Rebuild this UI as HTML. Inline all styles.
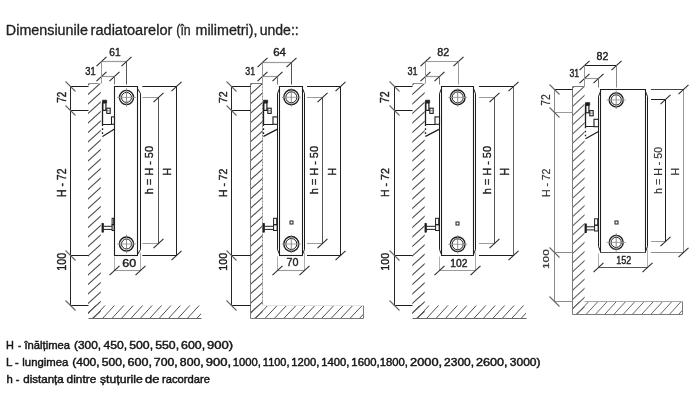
<!DOCTYPE html>
<html><head><meta charset="utf-8"><style>
html,body{margin:0;padding:0;background:#fff;width:700px;height:407px;overflow:hidden}
svg{display:block;font-family:"Liberation Sans", sans-serif;will-change:transform}
</style></head><body>
<svg width="700" height="407" viewBox="0 0 700 407">
<rect width="700" height="407" fill="#fff"/>
<clipPath id="c0"><rect x="88.00" y="83.60" width="12.80" height="235.00"/></clipPath>
<path clip-path="url(#c0)" d="M86.00,67.70L102.80,52.60M86.00,77.20L102.80,62.10M86.00,86.70L102.80,71.60M86.00,96.20L102.80,81.10M86.00,105.70L102.80,90.60M86.00,115.20L102.80,100.10M86.00,124.70L102.80,109.60M86.00,134.20L102.80,119.10M86.00,143.70L102.80,128.60M86.00,153.20L102.80,138.10M86.00,162.70L102.80,147.60M86.00,172.20L102.80,157.10M86.00,181.70L102.80,166.60M86.00,191.20L102.80,176.10M86.00,200.70L102.80,185.60M86.00,210.20L102.80,195.10M86.00,219.70L102.80,204.60M86.00,229.20L102.80,214.10M86.00,238.70L102.80,223.60M86.00,248.20L102.80,233.10M86.00,257.70L102.80,242.60M86.00,267.20L102.80,252.10M86.00,276.70L102.80,261.60M86.00,286.20L102.80,271.10M86.00,295.70L102.80,280.60M86.00,305.20L102.80,290.10M86.00,314.70L102.80,299.60M86.00,324.20L102.80,309.10M86.00,333.70L102.80,318.60M86.00,343.20L102.80,328.10" stroke="#505050" stroke-width="1.1" fill="none"/>
<clipPath id="c1"><rect x="88.00" y="305.50" width="113.00" height="13.10"/></clipPath>
<path clip-path="url(#c1)" d="M62.91,320.60L78.57,303.50M72.33,320.60L87.99,303.50M81.75,320.60L97.41,303.50M91.17,320.60L106.83,303.50M100.59,320.60L116.25,303.50M110.01,320.60L125.67,303.50M119.43,320.60L135.09,303.50M128.85,320.60L144.51,303.50M138.27,320.60L153.93,303.50M147.69,320.60L163.35,303.50M157.11,320.60L172.77,303.50M166.53,320.60L182.19,303.50M175.95,320.60L191.61,303.50M185.37,320.60L201.03,303.50M194.79,320.60L210.45,303.50M204.21,320.60L219.87,303.50M213.63,320.60L229.29,303.50" stroke="#505050" stroke-width="1.0" fill="none"/>
<line x1="88.50" y1="83.50" x2="98.50" y2="83.50" stroke="#8a8a8a" stroke-width="1.0" />
<line x1="88.50" y1="318.50" x2="201.50" y2="318.50" stroke="#666" stroke-width="1.0" />
<line x1="70.50" y1="86.50" x2="70.50" y2="305.50" stroke="#262626" stroke-width="1.0" />
<line x1="70.50" y1="86.50" x2="88.50" y2="86.50" stroke="#1e1e1e" stroke-width="1.0" />
<line x1="65.50" y1="81.50" x2="75.50" y2="91.50" stroke="#666" stroke-width="1.1" />
<line x1="70.50" y1="110.50" x2="88.50" y2="110.50" stroke="#1e1e1e" stroke-width="1.0" />
<line x1="65.50" y1="105.50" x2="75.50" y2="115.50" stroke="#666" stroke-width="1.1" />
<line x1="70.50" y1="255.50" x2="88.50" y2="255.50" stroke="#1e1e1e" stroke-width="1.0" />
<line x1="65.50" y1="250.50" x2="75.50" y2="260.50" stroke="#666" stroke-width="1.1" />
<line x1="70.50" y1="305.50" x2="88.50" y2="305.50" stroke="#1e1e1e" stroke-width="1.0" />
<line x1="65.50" y1="300.50" x2="75.50" y2="310.50" stroke="#666" stroke-width="1.1" />
<path d="M114.5,255.5V86.5H137.5V255.5" stroke="#1e1e1e" fill="#fff" stroke-width="1.1"/>
<line x1="114.00" y1="255.50" x2="138.00" y2="255.50" stroke="#1e1e1e" stroke-width="1.1" />
<path d="M137.5,88.5L140.5,93.5V249.5L137.5,254.5" stroke="#1e1e1e" fill="none" stroke-width="1.0"/>
<circle cx="126.50" cy="97.40" r="7.05" stroke="#1e1e1e" fill="none" stroke-width="1.4"/>
<circle cx="126.50" cy="97.40" r="5.00" stroke="#1e1e1e" fill="none" stroke-width="1.0"/>
<line x1="117.00" y1="97.40" x2="136.00" y2="97.40" stroke="#9a9a9a" stroke-width="0.9" />
<line x1="126.50" y1="88.20" x2="126.50" y2="106.60" stroke="#808080" stroke-width="0.9" />
<circle cx="126.50" cy="244.00" r="7.05" stroke="#1e1e1e" fill="none" stroke-width="1.4"/>
<circle cx="126.50" cy="244.00" r="5.00" stroke="#1e1e1e" fill="none" stroke-width="1.0"/>
<line x1="117.00" y1="244.00" x2="136.00" y2="244.00" stroke="#9a9a9a" stroke-width="0.9" />
<line x1="126.50" y1="234.80" x2="126.50" y2="253.20" stroke="#808080" stroke-width="0.9" />
<path d="M102.50,100.20H106.70V102.80H102.50Z" stroke="#1e1e1e" fill="#1e1e1e" stroke-width="0.7"/>
<rect x="102.80" y="102.80" width="3.10" height="7.60" stroke="#1e1e1e" fill="none" stroke-width="1.2"/>
<rect x="106.80" y="108.20" width="3.40" height="5.20" stroke="#1e1e1e" fill="none" stroke-width="1.1"/>
<line x1="106.80" y1="110.80" x2="110.20" y2="110.80" stroke="#666" stroke-width="0.8" />
<line x1="102.50" y1="103.00" x2="102.50" y2="124.30" stroke="#1e1e1e" stroke-width="1.3" />
<line x1="102.50" y1="124.30" x2="102.50" y2="136.40" stroke="#1e1e1e" stroke-width="1.3" stroke-dasharray="1.6,2.4"/>
<line x1="102.50" y1="124.50" x2="111.50" y2="124.50" stroke="#1e1e1e" stroke-width="1.0" />
<rect x="111.50" y="116.90" width="3.00" height="7.40" stroke="#1e1e1e" fill="none" stroke-width="1.1"/>
<line x1="102.50" y1="136.40" x2="114.50" y2="129.10" stroke="#1e1e1e" stroke-width="1.2" />
<rect x="101.90" y="223.30" width="1.80" height="9.00" stroke="#1e1e1e" fill="#1e1e1e" stroke-width="0.5"/>
<line x1="103.50" y1="226.30" x2="112.00" y2="226.30" stroke="#1e1e1e" stroke-width="1.0" />
<line x1="103.50" y1="229.40" x2="112.00" y2="229.40" stroke="#1e1e1e" stroke-width="1.0" />
<rect x="112.10" y="218.30" width="1.60" height="6.40" stroke="#1e1e1e" fill="none" stroke-width="1.0"/>
<rect x="112.10" y="224.70" width="2.00" height="5.80" stroke="#1e1e1e" fill="none" stroke-width="1.0"/>
<line x1="101.50" y1="61.50" x2="126.50" y2="61.50" stroke="#9a9a9a" stroke-width="1.2" />
<line x1="101.50" y1="76.50" x2="114.50" y2="76.50" stroke="#9a9a9a" stroke-width="1.2" />
<line x1="96.50" y1="66.10" x2="106.50" y2="56.90" stroke="#2a2a2a" stroke-width="1.1" />
<line x1="121.50" y1="66.10" x2="131.50" y2="56.90" stroke="#2a2a2a" stroke-width="1.1" />
<line x1="96.50" y1="81.10" x2="106.50" y2="71.90" stroke="#2a2a2a" stroke-width="1.1" />
<line x1="109.50" y1="81.10" x2="119.50" y2="71.90" stroke="#2a2a2a" stroke-width="1.1" />
<line x1="101.50" y1="61.50" x2="101.50" y2="83.50" stroke="#999" stroke-width="1.0" />
<line x1="126.50" y1="61.50" x2="126.50" y2="84.50" stroke="#555" stroke-width="1.0" />
<line x1="114.50" y1="76.50" x2="114.50" y2="84.50" stroke="#777" stroke-width="1.0" />
<line x1="142.30" y1="97.50" x2="158.50" y2="97.50" stroke="#9a9a9a" stroke-width="1.0" />
<line x1="142.30" y1="243.50" x2="158.50" y2="243.50" stroke="#9a9a9a" stroke-width="1.0" />
<line x1="158.50" y1="97.50" x2="158.50" y2="243.50" stroke="#555" stroke-width="1.0" />
<line x1="153.50" y1="102.10" x2="163.50" y2="92.90" stroke="#2a2a2a" stroke-width="1.1" />
<line x1="153.50" y1="248.10" x2="163.50" y2="238.90" stroke="#2a2a2a" stroke-width="1.1" />
<line x1="142.30" y1="86.50" x2="176.50" y2="86.50" stroke="#1e1e1e" stroke-width="1.0" />
<line x1="142.30" y1="255.50" x2="176.50" y2="255.50" stroke="#1e1e1e" stroke-width="1.0" />
<line x1="176.50" y1="86.50" x2="176.50" y2="255.50" stroke="#222" stroke-width="1.0" />
<line x1="171.50" y1="91.10" x2="181.50" y2="81.90" stroke="#2a2a2a" stroke-width="1.1" />
<line x1="171.50" y1="260.10" x2="181.50" y2="250.90" stroke="#2a2a2a" stroke-width="1.1" />
<line x1="114.50" y1="270.50" x2="140.50" y2="270.50" stroke="#9a9a9a" stroke-width="1.1" />
<line x1="114.50" y1="256.50" x2="114.50" y2="270.50" stroke="#b0b0b0" stroke-width="1.0" />
<line x1="140.50" y1="252.50" x2="140.50" y2="270.50" stroke="#b0b0b0" stroke-width="1.0" />
<line x1="109.50" y1="275.10" x2="119.50" y2="265.90" stroke="#2a2a2a" stroke-width="1.1" />
<line x1="135.50" y1="275.10" x2="145.50" y2="265.90" stroke="#2a2a2a" stroke-width="1.1" />
<text x="109.34" y="55.74" font-size="10.88" fill="#1e1e1e" stroke="#1e1e1e" stroke-width="0.4" font-weight="normal" textLength="11.30" lengthAdjust="spacingAndGlyphs">61</text>
<text x="85.29" y="74.54" font-size="11.02" fill="#1e1e1e" stroke="#1e1e1e" stroke-width="0.4" font-weight="normal" textLength="10.41" lengthAdjust="spacingAndGlyphs">31</text>
<text x="122.23" y="266.75" font-size="10.45" fill="#1e1e1e" stroke="#1e1e1e" stroke-width="0.4" font-weight="normal" textLength="13.90" lengthAdjust="spacingAndGlyphs">60</text>
<text transform="translate(66.35,102.66) rotate(-90)" x="0" y="0" font-size="13.18" fill="#1e1e1e" stroke="#1e1e1e" stroke-width="0.4" font-weight="normal" textLength="11.01" lengthAdjust="spacingAndGlyphs">72</text>
<text transform="translate(66.35,197.11) rotate(-90)" x="0" y="0" font-size="13.18" fill="#1e1e1e" stroke="#1e1e1e" stroke-width="0.4" font-weight="normal" textLength="28.58" lengthAdjust="spacingAndGlyphs">H - 72</text>
<text transform="translate(66.02,270.67) rotate(-90)" x="0" y="0" font-size="12.71" fill="#1e1e1e" stroke="#1e1e1e" stroke-width="0.4" font-weight="normal" textLength="18.04" lengthAdjust="spacingAndGlyphs">100</text>
<text transform="translate(153.24,194.21) rotate(-90)" x="0" y="0" font-size="11.17" fill="#1e1e1e" stroke="#1e1e1e" stroke-width="0.4" font-weight="normal" textLength="48.19" lengthAdjust="spacingAndGlyphs">h = H - 50</text>
<text transform="translate(171.45,175.73) rotate(-90)" x="0" y="0" font-size="10.9" fill="#1e1e1e" stroke="#1e1e1e" stroke-width="0.4" font-weight="normal" textLength="7.77" lengthAdjust="spacingAndGlyphs">H</text>
<clipPath id="c2"><rect x="250.50" y="83.50" width="12.20" height="235.10"/></clipPath>
<path clip-path="url(#c2)" d="M248.50,67.74L264.70,52.86M248.50,77.24L264.70,62.36M248.50,86.74L264.70,71.86M248.50,96.24L264.70,81.36M248.50,105.74L264.70,90.86M248.50,115.24L264.70,100.36M248.50,124.74L264.70,109.86M248.50,134.24L264.70,119.36M248.50,143.74L264.70,128.86M248.50,153.24L264.70,138.36M248.50,162.74L264.70,147.86M248.50,172.24L264.70,157.36M248.50,181.74L264.70,166.86M248.50,191.24L264.70,176.36M248.50,200.74L264.70,185.86M248.50,210.24L264.70,195.36M248.50,219.74L264.70,204.86M248.50,229.24L264.70,214.36M248.50,238.74L264.70,223.86M248.50,248.24L264.70,233.36M248.50,257.74L264.70,242.86M248.50,267.24L264.70,252.36M248.50,276.74L264.70,261.86M248.50,286.24L264.70,271.36M248.50,295.74L264.70,280.86M248.50,305.24L264.70,290.36M248.50,314.74L264.70,299.86M248.50,324.24L264.70,309.36M248.50,333.74L264.70,318.86M248.50,343.24L264.70,328.36" stroke="#505050" stroke-width="1.1" fill="none"/>
<clipPath id="c3"><rect x="250.50" y="305.40" width="112.60" height="13.20"/></clipPath>
<path clip-path="url(#c3)" d="M225.06,320.60L241.34,303.40M234.51,320.60L250.79,303.40M243.96,320.60L260.24,303.40M253.41,320.60L269.69,303.40M262.86,320.60L279.14,303.40M272.31,320.60L288.59,303.40M281.76,320.60L298.04,303.40M291.21,320.60L307.49,303.40M300.66,320.60L316.94,303.40M310.11,320.60L326.39,303.40M319.56,320.60L335.84,303.40M329.01,320.60L345.29,303.40M338.46,320.60L354.74,303.40M347.91,320.60L364.19,303.40M357.36,320.60L373.64,303.40M366.81,320.60L383.09,303.40M376.26,320.60L392.54,303.40" stroke="#505050" stroke-width="1.0" fill="none"/>
<path d="M250.5,318.5V83.5H262.5M363.5,305.5V318.5H250.5" stroke="#7a7a7a" fill="none" stroke-width="1.0"/>
<line x1="262.50" y1="83.50" x2="262.50" y2="305.50" stroke="#8a8a8a" stroke-width="1.0" stroke-dasharray="2,1"/>
<line x1="262.50" y1="305.50" x2="363.50" y2="305.50" stroke="#e2e2e2" stroke-width="1.0" />
<line x1="231.50" y1="86.50" x2="231.50" y2="305.50" stroke="#262626" stroke-width="1.0" />
<line x1="231.50" y1="86.50" x2="250.50" y2="86.50" stroke="#1e1e1e" stroke-width="1.0" />
<line x1="226.50" y1="81.50" x2="236.50" y2="91.50" stroke="#666" stroke-width="1.1" />
<line x1="231.50" y1="110.50" x2="250.50" y2="110.50" stroke="#1e1e1e" stroke-width="1.0" />
<line x1="226.50" y1="105.50" x2="236.50" y2="115.50" stroke="#666" stroke-width="1.1" />
<line x1="231.50" y1="255.50" x2="250.50" y2="255.50" stroke="#1e1e1e" stroke-width="1.0" />
<line x1="226.50" y1="250.50" x2="236.50" y2="260.50" stroke="#666" stroke-width="1.1" />
<line x1="231.50" y1="305.50" x2="250.50" y2="305.50" stroke="#1e1e1e" stroke-width="1.0" />
<line x1="226.50" y1="300.50" x2="236.50" y2="310.50" stroke="#666" stroke-width="1.1" />
<path d="M279.5,255.5V86.5H302.5V255.5" stroke="#1e1e1e" fill="#fff" stroke-width="1.1"/>
<line x1="279.00" y1="255.50" x2="303.00" y2="255.50" stroke="#1e1e1e" stroke-width="1.1" />
<path d="M279.5,88.5L277.5,93.5V249.5L279.5,254.5" stroke="#1e1e1e" fill="none" stroke-width="1.0"/>
<path d="M302.5,88.5L304.5,93.5V249.5L302.5,254.5" stroke="#1e1e1e" fill="none" stroke-width="1.0"/>
<circle cx="291.30" cy="97.30" r="7.50" stroke="#1e1e1e" fill="none" stroke-width="1.4"/>
<circle cx="291.30" cy="97.30" r="5.50" stroke="#1e1e1e" fill="none" stroke-width="1.0"/>
<line x1="281.80" y1="97.30" x2="300.80" y2="97.30" stroke="#9a9a9a" stroke-width="0.9" />
<line x1="291.30" y1="88.10" x2="291.30" y2="106.50" stroke="#808080" stroke-width="0.9" />
<circle cx="291.30" cy="244.00" r="7.50" stroke="#1e1e1e" fill="none" stroke-width="1.4"/>
<circle cx="291.30" cy="244.00" r="5.50" stroke="#1e1e1e" fill="none" stroke-width="1.0"/>
<line x1="281.80" y1="244.00" x2="300.80" y2="244.00" stroke="#9a9a9a" stroke-width="0.9" />
<line x1="291.30" y1="234.80" x2="291.30" y2="253.20" stroke="#808080" stroke-width="0.9" />
<rect x="290.00" y="221.00" width="3.00" height="3.00" stroke="#1e1e1e" fill="none" stroke-width="1.0"/>
<path d="M263.50,100.20H267.70V102.80H263.50Z" stroke="#1e1e1e" fill="#1e1e1e" stroke-width="0.7"/>
<rect x="263.80" y="102.80" width="3.10" height="7.60" stroke="#1e1e1e" fill="none" stroke-width="1.2"/>
<rect x="267.80" y="108.20" width="3.40" height="5.20" stroke="#1e1e1e" fill="none" stroke-width="1.1"/>
<line x1="267.80" y1="110.80" x2="271.20" y2="110.80" stroke="#666" stroke-width="0.8" />
<line x1="263.50" y1="103.00" x2="263.50" y2="124.30" stroke="#1e1e1e" stroke-width="1.3" />
<line x1="263.50" y1="124.30" x2="263.50" y2="136.40" stroke="#1e1e1e" stroke-width="1.3" stroke-dasharray="1.6,2.4"/>
<line x1="263.50" y1="124.50" x2="273.00" y2="124.50" stroke="#1e1e1e" stroke-width="1.0" />
<rect x="273.00" y="116.90" width="4.50" height="7.40" stroke="#1e1e1e" fill="none" stroke-width="1.1"/>
<line x1="263.50" y1="136.40" x2="277.50" y2="129.10" stroke="#1e1e1e" stroke-width="1.2" />
<rect x="262.90" y="223.30" width="1.80" height="9.00" stroke="#1e1e1e" fill="#1e1e1e" stroke-width="0.5"/>
<line x1="264.50" y1="226.30" x2="273.50" y2="226.30" stroke="#1e1e1e" stroke-width="1.0" />
<line x1="264.50" y1="229.40" x2="273.50" y2="229.40" stroke="#1e1e1e" stroke-width="1.0" />
<rect x="273.60" y="218.30" width="3.10" height="6.40" stroke="#1e1e1e" fill="none" stroke-width="1.0"/>
<rect x="273.60" y="224.70" width="3.50" height="5.80" stroke="#1e1e1e" fill="none" stroke-width="1.0"/>
<line x1="262.50" y1="62.50" x2="291.50" y2="62.50" stroke="#9a9a9a" stroke-width="1.2" />
<line x1="262.50" y1="76.50" x2="277.50" y2="76.50" stroke="#9a9a9a" stroke-width="1.2" />
<line x1="257.50" y1="67.10" x2="267.50" y2="57.90" stroke="#2a2a2a" stroke-width="1.1" />
<line x1="286.50" y1="67.10" x2="296.50" y2="57.90" stroke="#2a2a2a" stroke-width="1.1" />
<line x1="257.50" y1="81.10" x2="267.50" y2="71.90" stroke="#2a2a2a" stroke-width="1.1" />
<line x1="272.50" y1="81.10" x2="282.50" y2="71.90" stroke="#2a2a2a" stroke-width="1.1" />
<line x1="262.50" y1="62.50" x2="262.50" y2="83.50" stroke="#999" stroke-width="1.0" />
<line x1="291.50" y1="62.50" x2="291.50" y2="84.50" stroke="#555" stroke-width="1.0" />
<line x1="277.50" y1="76.50" x2="277.50" y2="84.50" stroke="#777" stroke-width="1.0" />
<line x1="307.00" y1="97.50" x2="322.50" y2="97.50" stroke="#9a9a9a" stroke-width="1.0" />
<line x1="307.00" y1="243.50" x2="322.50" y2="243.50" stroke="#9a9a9a" stroke-width="1.0" />
<line x1="322.50" y1="97.50" x2="322.50" y2="243.50" stroke="#555" stroke-width="1.0" />
<line x1="317.50" y1="102.10" x2="327.50" y2="92.90" stroke="#2a2a2a" stroke-width="1.1" />
<line x1="317.50" y1="248.10" x2="327.50" y2="238.90" stroke="#2a2a2a" stroke-width="1.1" />
<line x1="307.00" y1="86.50" x2="340.50" y2="86.50" stroke="#1e1e1e" stroke-width="1.0" />
<line x1="307.00" y1="255.50" x2="340.50" y2="255.50" stroke="#1e1e1e" stroke-width="1.0" />
<line x1="340.50" y1="86.50" x2="340.50" y2="255.50" stroke="#222" stroke-width="1.0" />
<line x1="335.50" y1="91.10" x2="345.50" y2="81.90" stroke="#2a2a2a" stroke-width="1.1" />
<line x1="335.50" y1="260.10" x2="345.50" y2="250.90" stroke="#2a2a2a" stroke-width="1.1" />
<line x1="277.50" y1="270.50" x2="304.50" y2="270.50" stroke="#9a9a9a" stroke-width="1.1" />
<line x1="277.50" y1="256.50" x2="277.50" y2="270.50" stroke="#b0b0b0" stroke-width="1.0" />
<line x1="304.50" y1="252.50" x2="304.50" y2="270.50" stroke="#b0b0b0" stroke-width="1.0" />
<line x1="272.50" y1="275.10" x2="282.50" y2="265.90" stroke="#2a2a2a" stroke-width="1.1" />
<line x1="299.50" y1="275.10" x2="309.50" y2="265.90" stroke="#2a2a2a" stroke-width="1.1" />
<text x="273.18" y="55.74" font-size="10.73" fill="#1e1e1e" stroke="#1e1e1e" stroke-width="0.4" font-weight="normal" textLength="12.72" lengthAdjust="spacingAndGlyphs">64</text>
<text x="245.21" y="74.74" font-size="11.3" fill="#1e1e1e" stroke="#1e1e1e" stroke-width="0.4" font-weight="normal" textLength="9.87" lengthAdjust="spacingAndGlyphs">31</text>
<text x="286.59" y="266.44" font-size="11.02" fill="#1e1e1e" stroke="#1e1e1e" stroke-width="0.4" font-weight="normal" textLength="11.97" lengthAdjust="spacingAndGlyphs">70</text>
<text transform="translate(227.35,103.10) rotate(-90)" x="0" y="0" font-size="11.6" fill="#1e1e1e" stroke="#1e1e1e" stroke-width="0.4" font-weight="normal" textLength="11.78" lengthAdjust="spacingAndGlyphs">72</text>
<text transform="translate(226.85,197.11) rotate(-90)" x="0" y="0" font-size="10.89" fill="#1e1e1e" stroke="#1e1e1e" stroke-width="0.4" font-weight="normal" textLength="28.58" lengthAdjust="spacingAndGlyphs">H - 72</text>
<text transform="translate(227.04,270.67) rotate(-90)" x="0" y="0" font-size="11.16" fill="#1e1e1e" stroke="#1e1e1e" stroke-width="0.4" font-weight="normal" textLength="18.04" lengthAdjust="spacingAndGlyphs">100</text>
<text transform="translate(317.74,194.21) rotate(-90)" x="0" y="0" font-size="11.17" fill="#1e1e1e" stroke="#1e1e1e" stroke-width="0.4" font-weight="normal" textLength="48.19" lengthAdjust="spacingAndGlyphs">h = H - 50</text>
<text transform="translate(335.95,175.73) rotate(-90)" x="0" y="0" font-size="10.76" fill="#1e1e1e" stroke="#1e1e1e" stroke-width="0.4" font-weight="normal" textLength="7.77" lengthAdjust="spacingAndGlyphs">H</text>
<clipPath id="c4"><rect x="412.30" y="83.50" width="12.40" height="235.10"/></clipPath>
<path clip-path="url(#c4)" d="M410.30,67.71L426.70,52.89M410.30,77.21L426.70,62.39M410.30,86.71L426.70,71.89M410.30,96.21L426.70,81.39M410.30,105.71L426.70,90.89M410.30,115.21L426.70,100.39M410.30,124.71L426.70,109.89M410.30,134.21L426.70,119.39M410.30,143.71L426.70,128.89M410.30,153.21L426.70,138.39M410.30,162.71L426.70,147.89M410.30,172.21L426.70,157.39M410.30,181.71L426.70,166.89M410.30,191.21L426.70,176.39M410.30,200.71L426.70,185.89M410.30,210.21L426.70,195.39M410.30,219.71L426.70,204.89M410.30,229.21L426.70,214.39M410.30,238.71L426.70,223.89M410.30,248.21L426.70,233.39M410.30,257.71L426.70,242.89M410.30,267.21L426.70,252.39M410.30,276.71L426.70,261.89M410.30,286.21L426.70,271.39M410.30,295.71L426.70,280.89M410.30,305.21L426.70,290.39M410.30,314.71L426.70,299.89M410.30,324.21L426.70,309.39M410.30,333.71L426.70,318.89M410.30,343.21L426.70,328.39" stroke="#505050" stroke-width="1.1" fill="none"/>
<clipPath id="c5"><rect x="412.30" y="305.50" width="113.70" height="13.10"/></clipPath>
<path clip-path="url(#c5)" d="M386.82,320.60L402.48,303.50M396.27,320.60L411.93,303.50M405.72,320.60L421.38,303.50M415.17,320.60L430.83,303.50M424.62,320.60L440.28,303.50M434.07,320.60L449.73,303.50M443.52,320.60L459.18,303.50M452.97,320.60L468.63,303.50M462.42,320.60L478.08,303.50M471.87,320.60L487.53,303.50M481.32,320.60L496.98,303.50M490.77,320.60L506.43,303.50M500.22,320.60L515.88,303.50M509.67,320.60L525.33,303.50M519.12,320.60L534.78,303.50M528.57,320.60L544.23,303.50M538.02,320.60L553.68,303.50" stroke="#505050" stroke-width="1.0" fill="none"/>
<line x1="412.50" y1="83.50" x2="422.50" y2="83.50" stroke="#8a8a8a" stroke-width="1.0" />
<line x1="412.50" y1="318.50" x2="526.50" y2="318.50" stroke="#666" stroke-width="1.0" />
<line x1="394.50" y1="86.50" x2="394.50" y2="305.50" stroke="#262626" stroke-width="1.0" />
<line x1="394.50" y1="86.50" x2="412.50" y2="86.50" stroke="#1e1e1e" stroke-width="1.0" />
<line x1="389.50" y1="81.50" x2="399.50" y2="91.50" stroke="#666" stroke-width="1.1" />
<line x1="394.50" y1="110.50" x2="412.50" y2="110.50" stroke="#1e1e1e" stroke-width="1.0" />
<line x1="389.50" y1="105.50" x2="399.50" y2="115.50" stroke="#666" stroke-width="1.1" />
<line x1="394.50" y1="255.50" x2="412.50" y2="255.50" stroke="#1e1e1e" stroke-width="1.0" />
<line x1="389.50" y1="250.50" x2="399.50" y2="260.50" stroke="#666" stroke-width="1.1" />
<line x1="394.50" y1="305.50" x2="412.50" y2="305.50" stroke="#1e1e1e" stroke-width="1.0" />
<line x1="389.50" y1="300.50" x2="399.50" y2="310.50" stroke="#666" stroke-width="1.1" />
<path d="M441.5,255.5V86.5H473.5V255.5" stroke="#1e1e1e" fill="#fff" stroke-width="1.1"/>
<line x1="441.00" y1="255.50" x2="474.00" y2="255.50" stroke="#1e1e1e" stroke-width="1.1" />
<path d="M441.5,88.5L439.5,93.5V249.5L441.5,254.5" stroke="#1e1e1e" fill="none" stroke-width="1.0"/>
<path d="M473.5,88.5L475.5,93.5V249.5L473.5,254.5" stroke="#1e1e1e" fill="none" stroke-width="1.0"/>
<circle cx="457.70" cy="97.40" r="7.35" stroke="#1e1e1e" fill="none" stroke-width="1.4"/>
<circle cx="457.70" cy="97.40" r="5.50" stroke="#1e1e1e" fill="none" stroke-width="1.0"/>
<line x1="448.20" y1="97.40" x2="467.20" y2="97.40" stroke="#9a9a9a" stroke-width="0.9" />
<line x1="457.70" y1="88.20" x2="457.70" y2="106.60" stroke="#808080" stroke-width="0.9" />
<circle cx="457.70" cy="244.30" r="7.35" stroke="#1e1e1e" fill="none" stroke-width="1.4"/>
<circle cx="457.70" cy="244.30" r="5.50" stroke="#1e1e1e" fill="none" stroke-width="1.0"/>
<line x1="448.20" y1="244.30" x2="467.20" y2="244.30" stroke="#9a9a9a" stroke-width="0.9" />
<line x1="457.70" y1="235.10" x2="457.70" y2="253.50" stroke="#808080" stroke-width="0.9" />
<rect x="456.00" y="222.00" width="3.00" height="3.00" stroke="#1e1e1e" fill="none" stroke-width="1.0"/>
<path d="M425.50,100.20H429.70V102.80H425.50Z" stroke="#1e1e1e" fill="#1e1e1e" stroke-width="0.7"/>
<rect x="425.80" y="102.80" width="3.10" height="7.60" stroke="#1e1e1e" fill="none" stroke-width="1.2"/>
<rect x="429.80" y="108.20" width="3.40" height="5.20" stroke="#1e1e1e" fill="none" stroke-width="1.1"/>
<line x1="429.80" y1="110.80" x2="433.20" y2="110.80" stroke="#666" stroke-width="0.8" />
<line x1="425.50" y1="103.00" x2="425.50" y2="124.30" stroke="#1e1e1e" stroke-width="1.3" />
<line x1="425.50" y1="124.30" x2="425.50" y2="136.40" stroke="#1e1e1e" stroke-width="1.3" stroke-dasharray="1.6,2.4"/>
<line x1="425.50" y1="124.50" x2="435.00" y2="124.50" stroke="#1e1e1e" stroke-width="1.0" />
<rect x="435.00" y="116.90" width="4.50" height="7.40" stroke="#1e1e1e" fill="none" stroke-width="1.1"/>
<line x1="425.50" y1="136.40" x2="439.50" y2="129.10" stroke="#1e1e1e" stroke-width="1.2" />
<rect x="424.90" y="223.30" width="1.80" height="9.00" stroke="#1e1e1e" fill="#1e1e1e" stroke-width="0.5"/>
<line x1="426.50" y1="226.30" x2="435.50" y2="226.30" stroke="#1e1e1e" stroke-width="1.0" />
<line x1="426.50" y1="229.40" x2="435.50" y2="229.40" stroke="#1e1e1e" stroke-width="1.0" />
<rect x="435.60" y="218.30" width="3.10" height="6.40" stroke="#1e1e1e" fill="none" stroke-width="1.0"/>
<rect x="435.60" y="224.70" width="3.50" height="5.80" stroke="#1e1e1e" fill="none" stroke-width="1.0"/>
<line x1="425.50" y1="61.50" x2="458.50" y2="61.50" stroke="#9a9a9a" stroke-width="1.2" />
<line x1="425.50" y1="76.50" x2="439.50" y2="76.50" stroke="#9a9a9a" stroke-width="1.2" />
<line x1="420.50" y1="66.10" x2="430.50" y2="56.90" stroke="#2a2a2a" stroke-width="1.1" />
<line x1="453.50" y1="66.10" x2="463.50" y2="56.90" stroke="#2a2a2a" stroke-width="1.1" />
<line x1="420.50" y1="81.10" x2="430.50" y2="71.90" stroke="#2a2a2a" stroke-width="1.1" />
<line x1="434.50" y1="81.10" x2="444.50" y2="71.90" stroke="#2a2a2a" stroke-width="1.1" />
<line x1="425.50" y1="61.50" x2="425.50" y2="83.50" stroke="#999" stroke-width="1.0" />
<line x1="458.50" y1="61.50" x2="458.50" y2="84.50" stroke="#999" stroke-width="1.0" />
<line x1="439.50" y1="76.50" x2="439.50" y2="84.50" stroke="#777" stroke-width="1.0" />
<line x1="479.00" y1="97.50" x2="494.50" y2="97.50" stroke="#9a9a9a" stroke-width="1.0" />
<line x1="479.00" y1="243.50" x2="494.50" y2="243.50" stroke="#9a9a9a" stroke-width="1.0" />
<line x1="494.50" y1="97.50" x2="494.50" y2="243.50" stroke="#555" stroke-width="1.0" />
<line x1="489.50" y1="102.10" x2="499.50" y2="92.90" stroke="#2a2a2a" stroke-width="1.1" />
<line x1="489.50" y1="248.10" x2="499.50" y2="238.90" stroke="#2a2a2a" stroke-width="1.1" />
<line x1="479.00" y1="86.50" x2="513.50" y2="86.50" stroke="#1e1e1e" stroke-width="1.0" />
<line x1="479.00" y1="255.50" x2="513.50" y2="255.50" stroke="#1e1e1e" stroke-width="1.0" />
<line x1="513.50" y1="86.50" x2="513.50" y2="255.50" stroke="#666" stroke-width="1.0" />
<line x1="508.50" y1="91.10" x2="518.50" y2="81.90" stroke="#2a2a2a" stroke-width="1.1" />
<line x1="508.50" y1="260.10" x2="518.50" y2="250.90" stroke="#2a2a2a" stroke-width="1.1" />
<line x1="439.50" y1="270.50" x2="475.50" y2="270.50" stroke="#9a9a9a" stroke-width="1.1" />
<line x1="439.50" y1="256.50" x2="439.50" y2="270.50" stroke="#b0b0b0" stroke-width="1.0" />
<line x1="475.50" y1="252.50" x2="475.50" y2="270.50" stroke="#b0b0b0" stroke-width="1.0" />
<line x1="434.50" y1="275.10" x2="444.50" y2="265.90" stroke="#2a2a2a" stroke-width="1.1" />
<line x1="470.50" y1="275.10" x2="480.50" y2="265.90" stroke="#2a2a2a" stroke-width="1.1" />
<text x="437.27" y="55.73" font-size="11.72" fill="#1e1e1e" stroke="#1e1e1e" stroke-width="0.4" font-weight="normal" textLength="12.02" lengthAdjust="spacingAndGlyphs">82</text>
<text x="407.40" y="74.74" font-size="11.3" fill="#1e1e1e" stroke="#1e1e1e" stroke-width="0.4" font-weight="normal" textLength="10.19" lengthAdjust="spacingAndGlyphs">31</text>
<text x="450.37" y="266.74" font-size="10.59" fill="#1e1e1e" stroke="#1e1e1e" stroke-width="0.4" font-weight="normal" textLength="17.20" lengthAdjust="spacingAndGlyphs">102</text>
<text transform="translate(389.05,103.10) rotate(-90)" x="0" y="0" font-size="11.89" fill="#1e1e1e" stroke="#1e1e1e" stroke-width="0.4" font-weight="normal" textLength="11.78" lengthAdjust="spacingAndGlyphs">72</text>
<text transform="translate(389.05,197.12) rotate(-90)" x="0" y="0" font-size="11.03" fill="#1e1e1e" stroke="#1e1e1e" stroke-width="0.4" font-weight="normal" textLength="29.00" lengthAdjust="spacingAndGlyphs">H - 72</text>
<text transform="translate(388.94,270.67) rotate(-90)" x="0" y="0" font-size="11.44" fill="#1e1e1e" stroke="#1e1e1e" stroke-width="0.4" font-weight="normal" textLength="18.04" lengthAdjust="spacingAndGlyphs">100</text>
<text transform="translate(490.54,194.21) rotate(-90)" x="0" y="0" font-size="11.31" fill="#1e1e1e" stroke="#1e1e1e" stroke-width="0.4" font-weight="normal" textLength="48.19" lengthAdjust="spacingAndGlyphs">h = H - 50</text>
<text transform="translate(508.75,175.73) rotate(-90)" x="0" y="0" font-size="12.06" fill="#1e1e1e" stroke="#1e1e1e" stroke-width="0.4" font-weight="normal" textLength="7.77" lengthAdjust="spacingAndGlyphs">H</text>
<clipPath id="c6"><rect x="572.50" y="86.30" width="12.10" height="228.20"/></clipPath>
<path clip-path="url(#c6)" d="M570.50,71.58L586.60,56.68M570.50,80.77L586.60,65.87M570.50,89.96L586.60,75.06M570.50,99.15L586.60,84.25M570.50,108.34L586.60,93.44M570.50,117.53L586.60,102.63M570.50,126.72L586.60,111.82M570.50,135.91L586.60,121.01M570.50,145.10L586.60,130.20M570.50,154.29L586.60,139.39M570.50,163.48L586.60,148.58M570.50,172.67L586.60,157.77M570.50,181.86L586.60,166.96M570.50,191.05L586.60,176.15M570.50,200.24L586.60,185.34M570.50,209.43L586.60,194.53M570.50,218.62L586.60,203.72M570.50,227.81L586.60,212.91M570.50,237.00L586.60,222.10M570.50,246.19L586.60,231.29M570.50,255.38L586.60,240.48M570.50,264.57L586.60,249.67M570.50,273.76L586.60,258.86M570.50,282.95L586.60,268.05M570.50,292.14L586.60,277.24M570.50,301.33L586.60,286.43M570.50,310.52L586.60,295.62M570.50,319.71L586.60,304.81M570.50,328.90L586.60,314.00M570.50,338.09L586.60,323.19" stroke="#666" stroke-width="1.1" fill="none"/>
<clipPath id="c7"><rect x="572.50" y="301.40" width="109.50" height="13.10"/></clipPath>
<path clip-path="url(#c7)" d="M547.22,316.50L562.88,299.40M556.47,316.50L572.13,299.40M565.72,316.50L581.38,299.40M574.97,316.50L590.63,299.40M584.22,316.50L599.88,299.40M593.47,316.50L609.13,299.40M602.72,316.50L618.38,299.40M611.97,316.50L627.63,299.40M621.22,316.50L636.88,299.40M630.47,316.50L646.13,299.40M639.72,316.50L655.38,299.40M648.97,316.50L664.63,299.40M658.22,316.50L673.88,299.40M667.47,316.50L683.13,299.40M676.72,316.50L692.38,299.40M685.97,316.50L701.63,299.40M695.22,316.50L710.88,299.40" stroke="#666" stroke-width="1.0" fill="none"/>
<path d="M572.5,314.5V86.5H584.5M682.5,301.5V314.5H572.5" stroke="#7a7a7a" fill="none" stroke-width="1.0"/>
<line x1="584.50" y1="301.50" x2="682.50" y2="301.50" stroke="#a8a8a8" stroke-width="1.0" />
<line x1="554.50" y1="89.50" x2="554.50" y2="301.50" stroke="#8a8a8a" stroke-width="1.0" />
<line x1="554.50" y1="89.50" x2="572.50" y2="89.50" stroke="#1e1e1e" stroke-width="1.0" />
<line x1="549.50" y1="84.50" x2="559.50" y2="94.50" stroke="#666" stroke-width="1.1" />
<line x1="554.50" y1="112.50" x2="572.50" y2="112.50" stroke="#9a9a9a" stroke-width="1.0" />
<line x1="549.50" y1="107.50" x2="559.50" y2="117.50" stroke="#666" stroke-width="1.1" />
<line x1="554.50" y1="252.50" x2="572.50" y2="252.50" stroke="#8a8a8a" stroke-width="1.0" />
<line x1="549.50" y1="247.50" x2="559.50" y2="257.50" stroke="#666" stroke-width="1.1" />
<line x1="554.50" y1="301.50" x2="572.50" y2="301.50" stroke="#8a8a8a" stroke-width="1.0" />
<line x1="549.50" y1="296.50" x2="559.50" y2="306.50" stroke="#666" stroke-width="1.1" />
<path d="M600.5,252.5V89.5H645.5V252.5" stroke="#1e1e1e" fill="#fff" stroke-width="1.1"/>
<line x1="600.00" y1="252.50" x2="646.00" y2="252.50" stroke="#555" stroke-width="1.1" />
<path d="M600.5,91.5L598.5,96.5V246.5L600.5,251.5" stroke="#1e1e1e" fill="none" stroke-width="1.0"/>
<path d="M645.5,91.5L647.5,96.5V246.5L645.5,251.5" stroke="#1e1e1e" fill="none" stroke-width="1.0"/>
<circle cx="616.20" cy="99.90" r="7.00" stroke="#1e1e1e" fill="none" stroke-width="1.4"/>
<circle cx="616.20" cy="99.90" r="5.10" stroke="#1e1e1e" fill="none" stroke-width="1.0"/>
<line x1="606.70" y1="99.90" x2="625.70" y2="99.90" stroke="#9a9a9a" stroke-width="0.9" />
<line x1="616.20" y1="90.70" x2="616.20" y2="109.10" stroke="#808080" stroke-width="0.9" />
<circle cx="616.20" cy="242.40" r="7.00" stroke="#1e1e1e" fill="none" stroke-width="1.4"/>
<circle cx="616.20" cy="242.40" r="5.10" stroke="#1e1e1e" fill="none" stroke-width="1.0"/>
<line x1="606.70" y1="242.40" x2="625.70" y2="242.40" stroke="#9a9a9a" stroke-width="0.9" />
<line x1="616.20" y1="233.20" x2="616.20" y2="251.60" stroke="#808080" stroke-width="0.9" />
<rect x="615.00" y="221.00" width="3.00" height="3.00" stroke="#1e1e1e" fill="none" stroke-width="1.0"/>
<path d="M585.50,102.60H589.70V105.20H585.50Z" stroke="#1e1e1e" fill="#1e1e1e" stroke-width="0.7"/>
<rect x="585.80" y="105.20" width="3.10" height="7.60" stroke="#1e1e1e" fill="none" stroke-width="1.2"/>
<rect x="589.80" y="110.60" width="3.40" height="5.20" stroke="#1e1e1e" fill="none" stroke-width="1.1"/>
<line x1="589.80" y1="113.20" x2="593.20" y2="113.20" stroke="#666" stroke-width="0.8" />
<line x1="585.50" y1="105.40" x2="585.50" y2="126.70" stroke="#1e1e1e" stroke-width="1.3" />
<line x1="585.50" y1="126.70" x2="585.50" y2="138.80" stroke="#1e1e1e" stroke-width="1.3" stroke-dasharray="1.6,2.4"/>
<line x1="585.50" y1="126.50" x2="594.00" y2="126.50" stroke="#1e1e1e" stroke-width="1.0" />
<rect x="594.00" y="119.30" width="4.50" height="7.40" stroke="#1e1e1e" fill="none" stroke-width="1.1"/>
<line x1="585.50" y1="138.80" x2="598.50" y2="131.50" stroke="#1e1e1e" stroke-width="1.2" />
<rect x="584.90" y="223.80" width="1.80" height="9.00" stroke="#1e1e1e" fill="#1e1e1e" stroke-width="0.5"/>
<line x1="586.50" y1="226.80" x2="594.50" y2="226.80" stroke="#1e1e1e" stroke-width="1.0" />
<line x1="586.50" y1="229.90" x2="594.50" y2="229.90" stroke="#1e1e1e" stroke-width="1.0" />
<rect x="594.60" y="218.80" width="3.10" height="6.40" stroke="#1e1e1e" fill="none" stroke-width="1.0"/>
<rect x="594.60" y="225.20" width="3.50" height="5.80" stroke="#1e1e1e" fill="none" stroke-width="1.0"/>
<line x1="584.50" y1="65.50" x2="616.50" y2="65.50" stroke="#1e1e1e" stroke-width="1.2" />
<line x1="584.50" y1="78.50" x2="598.50" y2="78.50" stroke="#9a9a9a" stroke-width="1.2" />
<line x1="579.50" y1="70.10" x2="589.50" y2="60.90" stroke="#2a2a2a" stroke-width="1.1" />
<line x1="611.50" y1="70.10" x2="621.50" y2="60.90" stroke="#2a2a2a" stroke-width="1.1" />
<line x1="579.50" y1="83.10" x2="589.50" y2="73.90" stroke="#2a2a2a" stroke-width="1.1" />
<line x1="593.50" y1="83.10" x2="603.50" y2="73.90" stroke="#2a2a2a" stroke-width="1.1" />
<line x1="584.50" y1="65.50" x2="584.50" y2="86.50" stroke="#999" stroke-width="1.0" />
<line x1="616.50" y1="65.50" x2="616.50" y2="87.50" stroke="#8a8a8a" stroke-width="1.0" />
<line x1="598.50" y1="78.50" x2="598.50" y2="87.50" stroke="#777" stroke-width="1.0" />
<line x1="651.00" y1="99.50" x2="665.50" y2="99.50" stroke="#1e1e1e" stroke-width="1.0" />
<line x1="651.00" y1="241.50" x2="665.50" y2="241.50" stroke="#9a9a9a" stroke-width="1.0" />
<line x1="665.50" y1="99.50" x2="665.50" y2="241.50" stroke="#1e1e1e" stroke-width="1.0" />
<line x1="660.50" y1="104.10" x2="670.50" y2="94.90" stroke="#2a2a2a" stroke-width="1.1" />
<line x1="660.50" y1="246.10" x2="670.50" y2="236.90" stroke="#2a2a2a" stroke-width="1.1" />
<line x1="651.00" y1="89.50" x2="683.50" y2="89.50" stroke="#444" stroke-width="1.0" />
<line x1="651.00" y1="252.50" x2="683.50" y2="252.50" stroke="#8a8a8a" stroke-width="1.0" />
<line x1="683.50" y1="89.50" x2="683.50" y2="252.50" stroke="#9a9a9a" stroke-width="1.0" />
<line x1="678.50" y1="94.10" x2="688.50" y2="84.90" stroke="#2a2a2a" stroke-width="1.1" />
<line x1="678.50" y1="257.10" x2="688.50" y2="247.90" stroke="#2a2a2a" stroke-width="1.1" />
<line x1="598.50" y1="267.50" x2="647.50" y2="267.50" stroke="#555" stroke-width="1.1" />
<line x1="598.50" y1="253.50" x2="598.50" y2="267.50" stroke="#b0b0b0" stroke-width="1.0" />
<line x1="647.50" y1="249.50" x2="647.50" y2="267.50" stroke="#b0b0b0" stroke-width="1.0" />
<line x1="593.50" y1="272.10" x2="603.50" y2="262.90" stroke="#2a2a2a" stroke-width="1.1" />
<line x1="642.50" y1="272.10" x2="652.50" y2="262.90" stroke="#2a2a2a" stroke-width="1.1" />
<text x="596.58" y="59.54" font-size="10.73" fill="#1e1e1e" stroke="#1e1e1e" stroke-width="0.4" font-weight="normal" textLength="11.80" lengthAdjust="spacingAndGlyphs">82</text>
<text x="569.42" y="77.45" font-size="10.03" fill="#1e1e1e" stroke="#1e1e1e" stroke-width="0.4" font-weight="normal" textLength="9.65" lengthAdjust="spacingAndGlyphs">31</text>
<text x="616.16" y="264.24" font-size="11.44" fill="#1e1e1e" stroke="#1e1e1e" stroke-width="0.4" font-weight="normal" textLength="15.15" lengthAdjust="spacingAndGlyphs">152</text>
<text transform="translate(550.45,105.79) rotate(-90)" x="0" y="0" font-size="11.89" fill="#333" stroke="#333" stroke-width="0.2" font-weight="normal" textLength="11.56" lengthAdjust="spacingAndGlyphs">72</text>
<text transform="translate(550.45,197.11) rotate(-90)" x="0" y="0" font-size="10.6" fill="#333" stroke="#333" stroke-width="0.2" font-weight="normal" textLength="28.58" lengthAdjust="spacingAndGlyphs">H - 72</text>
<text transform="translate(549.36,268.94) rotate(-90)" x="0" y="0" font-size="9.32" fill="#333" stroke="#333" stroke-width="0.2" font-weight="normal" textLength="19.65" lengthAdjust="spacingAndGlyphs">100</text>
<text transform="translate(661.55,193.89) rotate(-90)" x="0" y="0" font-size="10.08" fill="#333" stroke="#333" stroke-width="0.2" font-weight="normal" textLength="46.96" lengthAdjust="spacingAndGlyphs">h = H - 50</text>
<text transform="translate(678.85,175.73) rotate(-90)" x="0" y="0" font-size="10.76" fill="#333" stroke="#333" stroke-width="0.2" font-weight="normal" textLength="7.77" lengthAdjust="spacingAndGlyphs">H</text>
<text x="5.88" y="34.70" font-size="14.0" fill="#222" stroke="#222" stroke-width="0.3" font-weight="normal" textLength="82.01" lengthAdjust="spacingAndGlyphs">Dimensiunile</text>
<text x="90.59" y="34.70" font-size="14.0" fill="#222" stroke="#222" stroke-width="0.3" font-weight="normal" textLength="81.80" lengthAdjust="spacingAndGlyphs">radiatoarelor</text>
<text x="176.29" y="34.70" font-size="14.0" fill="#222" stroke="#222" stroke-width="0.3" font-weight="normal" textLength="14.36" lengthAdjust="spacingAndGlyphs">(în</text>
<text x="195.50" y="34.70" font-size="14.0" fill="#222" stroke="#222" stroke-width="0.3" font-weight="normal" textLength="62.04" lengthAdjust="spacingAndGlyphs">milimetri),</text>
<text x="259.65" y="34.70" font-size="14.0" fill="#222" stroke="#222" stroke-width="0.3" font-weight="normal" textLength="39.10" lengthAdjust="spacingAndGlyphs">unde::</text>
<text x="6.12" y="348.90" font-size="10.4" fill="#151515" stroke="#151515" stroke-width="0.42" font-weight="normal" textLength="7.87" lengthAdjust="spacingAndGlyphs">H</text>
<text x="18.00" y="348.90" font-size="10.4" fill="#151515" stroke="#151515" stroke-width="0.42" font-weight="normal" textLength="3.11" lengthAdjust="spacingAndGlyphs">-</text>
<text x="24.46" y="348.90" font-size="10.4" fill="#151515" stroke="#151515" stroke-width="0.42" font-weight="normal" textLength="45.63" lengthAdjust="spacingAndGlyphs">înălțimea</text>
<text x="73.97" y="348.90" font-size="10.4" fill="#151515" stroke="#151515" stroke-width="0.42" font-weight="normal" textLength="27.08" lengthAdjust="spacingAndGlyphs">(300,</text>
<text x="103.44" y="348.90" font-size="10.4" fill="#151515" stroke="#151515" stroke-width="0.42" font-weight="normal" textLength="23.64" lengthAdjust="spacingAndGlyphs">450,</text>
<text x="129.22" y="348.90" font-size="10.4" fill="#151515" stroke="#151515" stroke-width="0.42" font-weight="normal" textLength="23.88" lengthAdjust="spacingAndGlyphs">500,</text>
<text x="155.22" y="348.90" font-size="10.4" fill="#151515" stroke="#151515" stroke-width="0.42" font-weight="normal" textLength="23.88" lengthAdjust="spacingAndGlyphs">550,</text>
<text x="181.09" y="348.90" font-size="10.4" fill="#151515" stroke="#151515" stroke-width="0.42" font-weight="normal" textLength="24.01" lengthAdjust="spacingAndGlyphs">600,</text>
<text x="207.11" y="348.90" font-size="10.4" fill="#151515" stroke="#151515" stroke-width="0.42" font-weight="normal" textLength="26.11" lengthAdjust="spacingAndGlyphs">900)</text>
<text x="6.06" y="366.20" font-size="10.4" fill="#151515" stroke="#151515" stroke-width="0.42" font-weight="normal" textLength="6.42" lengthAdjust="spacingAndGlyphs">L</text>
<text x="15.13" y="366.20" font-size="10.4" fill="#151515" stroke="#151515" stroke-width="0.42" font-weight="normal" textLength="3.66" lengthAdjust="spacingAndGlyphs">-</text>
<text x="22.34" y="366.20" font-size="10.4" fill="#151515" stroke="#151515" stroke-width="0.42" font-weight="normal" textLength="46.05" lengthAdjust="spacingAndGlyphs">lungimea</text>
<text x="72.26" y="366.20" font-size="10.4" fill="#151515" stroke="#151515" stroke-width="0.42" font-weight="normal" textLength="27.40" lengthAdjust="spacingAndGlyphs">(400,</text>
<text x="101.82" y="366.20" font-size="10.4" fill="#151515" stroke="#151515" stroke-width="0.42" font-weight="normal" textLength="23.66" lengthAdjust="spacingAndGlyphs">500,</text>
<text x="127.48" y="366.20" font-size="10.4" fill="#151515" stroke="#151515" stroke-width="0.42" font-weight="normal" textLength="24.44" lengthAdjust="spacingAndGlyphs">600,</text>
<text x="153.87" y="366.20" font-size="10.4" fill="#151515" stroke="#151515" stroke-width="0.42" font-weight="normal" textLength="23.93" lengthAdjust="spacingAndGlyphs">700,</text>
<text x="179.87" y="366.20" font-size="10.4" fill="#151515" stroke="#151515" stroke-width="0.42" font-weight="normal" textLength="23.93" lengthAdjust="spacingAndGlyphs">800,</text>
<text x="205.81" y="366.20" font-size="10.4" fill="#151515" stroke="#151515" stroke-width="0.42" font-weight="normal" textLength="25.36" lengthAdjust="spacingAndGlyphs">900,</text>
<text x="232.86" y="366.20" font-size="10.4" fill="#151515" stroke="#151515" stroke-width="0.42" font-weight="normal" textLength="28.15" lengthAdjust="spacingAndGlyphs">1000,</text>
<text x="262.88" y="366.20" font-size="10.4" fill="#151515" stroke="#151515" stroke-width="0.42" font-weight="normal" textLength="26.60" lengthAdjust="spacingAndGlyphs">1100,</text>
<text x="291.35" y="366.20" font-size="10.4" fill="#151515" stroke="#151515" stroke-width="0.42" font-weight="normal" textLength="28.15" lengthAdjust="spacingAndGlyphs">1200,</text>
<text x="321.35" y="366.20" font-size="10.4" fill="#151515" stroke="#151515" stroke-width="0.42" font-weight="normal" textLength="28.15" lengthAdjust="spacingAndGlyphs">1400,</text>
<text x="351.35" y="366.20" font-size="10.4" fill="#151515" stroke="#151515" stroke-width="0.42" font-weight="normal" textLength="56.65" lengthAdjust="spacingAndGlyphs">1600,1800,</text>
<text x="410.07" y="366.20" font-size="10.4" fill="#151515" stroke="#151515" stroke-width="0.42" font-weight="normal" textLength="32.08" lengthAdjust="spacingAndGlyphs">2000,</text>
<text x="444.11" y="366.20" font-size="10.4" fill="#151515" stroke="#151515" stroke-width="0.42" font-weight="normal" textLength="29.96" lengthAdjust="spacingAndGlyphs">2300,</text>
<text x="476.08" y="366.20" font-size="10.4" fill="#151515" stroke="#151515" stroke-width="0.42" font-weight="normal" textLength="31.55" lengthAdjust="spacingAndGlyphs">2600,</text>
<text x="509.75" y="366.20" font-size="10.4" fill="#151515" stroke="#151515" stroke-width="0.42" font-weight="normal" textLength="30.80" lengthAdjust="spacingAndGlyphs">3000)</text>
<text x="6.52" y="383.40" font-size="10.4" fill="#151515" stroke="#151515" stroke-width="0.42" font-weight="normal" textLength="6.30" lengthAdjust="spacingAndGlyphs">h</text>
<text x="15.73" y="383.40" font-size="10.4" fill="#151515" stroke="#151515" stroke-width="0.42" font-weight="normal" textLength="3.66" lengthAdjust="spacingAndGlyphs">-</text>
<text x="23.22" y="383.40" font-size="10.4" fill="#151515" stroke="#151515" stroke-width="0.42" font-weight="normal" textLength="40.57" lengthAdjust="spacingAndGlyphs">distanța</text>
<text x="66.61" y="383.40" font-size="10.4" fill="#151515" stroke="#151515" stroke-width="0.42" font-weight="normal" textLength="29.69" lengthAdjust="spacingAndGlyphs">dintre</text>
<text x="99.97" y="383.40" font-size="10.4" fill="#151515" stroke="#151515" stroke-width="0.42" font-weight="normal" textLength="42.75" lengthAdjust="spacingAndGlyphs">ștuțurile</text>
<text x="144.97" y="383.40" font-size="10.4" fill="#151515" stroke="#151515" stroke-width="0.42" font-weight="normal" textLength="14.40" lengthAdjust="spacingAndGlyphs">de</text>
<text x="162.07" y="383.40" font-size="10.4" fill="#151515" stroke="#151515" stroke-width="0.42" font-weight="normal" textLength="47.91" lengthAdjust="spacingAndGlyphs">racordare</text>
</svg>
</body></html>
